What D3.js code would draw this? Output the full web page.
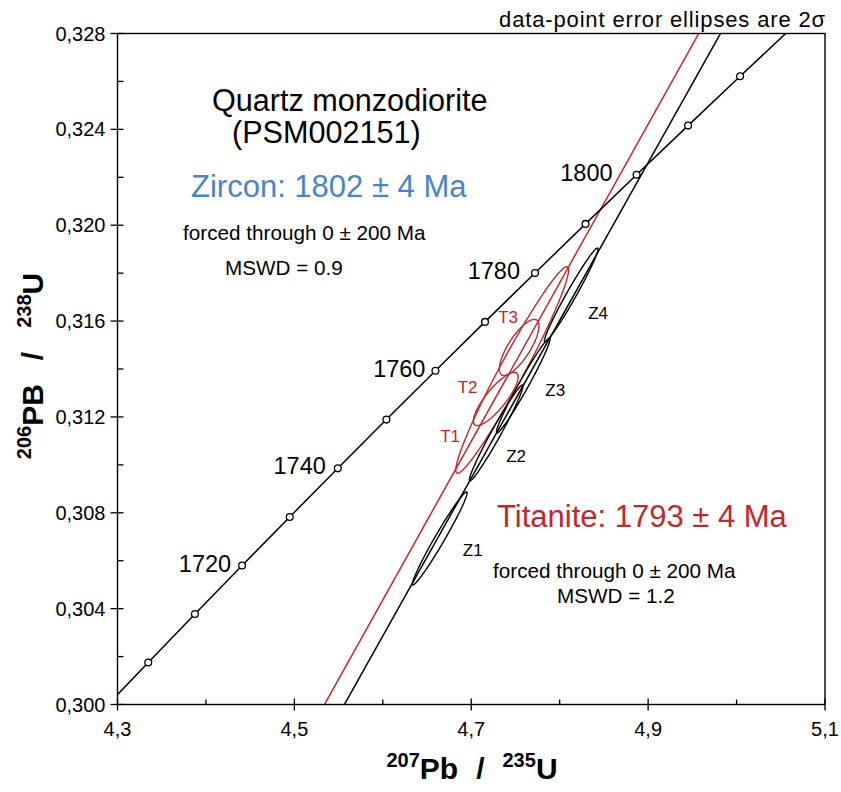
<!DOCTYPE html>
<html><head><meta charset="utf-8">
<script src="https://cdn.jsdelivr.net/npm/d3@7"></script>
<style>body{margin:0;background:#fff}svg{display:block}text{font-family:"Liberation Sans",Arial,Helvetica,sans-serif}</style>
</head><body><div id="chart"></div>
<script>
// ---------- data ----------
const concordiaAges = [1690,1700,1710,1720,1730,1740,1750,1760,1770,1780,1790,1800,1810,1820,1830];
const concordiaX = [4.28249,4.33477,4.38757,4.44089,4.49474,4.54912,4.60404,4.65951,4.71552,4.77209,4.82922,4.88691,4.94517,5.00401,5.06344];
const concordiaY = [0.299736,0.301753,0.303774,0.305798,0.307825,0.309855,0.311889,0.313926,0.315966,0.318009,0.320055,0.322104,0.324157,0.326213,0.328272];
const markerAges = [1700,1710,1720,1730,1740,1750,1760,1770,1780,1790,1800,1810,1820];
const labelledAges = [1720,1740,1760,1780,1800];

const zirconNames = ["Z1","Z2","Z3","Z4"];
const zirconX   = [4.6644,4.7282,4.7588,4.8130];
const zirconY   = [0.30693,0.31133,0.31331,0.31709];
const zirconSX  = [0.0309,0.0303,0.0303,0.0303];
const zirconSY  = [0.00194,0.00200,0.00198,0.00196];
const zirconRho = [0.979,0.979,0.979,0.979];

const titaniteNames = ["T1","T2","T3"];
const titaniteX   = [4.7463,4.7277,4.7542];
const titaniteY   = [0.31396,0.31275,0.31490];
const titaniteSX  = [0.0638,0.0253,0.0224];
const titaniteSY  = [0.00431,0.00111,0.00117];
const titaniteRho = [0.969,0.830,0.766];

// discordia lines (forced through origin), two points each in data space
const zirconLineX = [0, 5.1], zirconLineY = [0, 0.33578];
const titaniteLineX = [0, 5.1], titaniteLineY = [0, 0.337447];

const xTicks = [4.3,4.5,4.7,4.9,5.1];
const xTickLabels = ["4,3","4,5","4,7","4,9","5,1"];
const xMinor = [4.4,4.6,4.8,5.0];
const yTicks = [0.300,0.304,0.308,0.312,0.316,0.320,0.324,0.328];
const yTickLabels = ["0,300","0,304","0,308","0,312","0,316","0,320","0,324","0,328"];
const yMinor = [0.302,0.306,0.310,0.314,0.318,0.322,0.326];

// ---------- layout ----------
const W = 841, H = 792;
const L = 117.5, R = 825, T = 33.5, B = 704.5;
const RED = "#c1272d", BLUE = "#4a84c8";

const svg = d3.select("#chart").append("svg").attr("width", W).attr("height", H);
const x = d3.scaleLinear().domain([4.3, 5.1]).range([L, R]);
const y = d3.scaleLinear().domain([0.300, 0.328]).range([B, T]);

svg.append("defs").append("clipPath").attr("id","plot")
  .append("rect").attr("x", L).attr("y", T).attr("width", R-L).attr("height", B-T);

const g = svg.append("g").attr("clip-path","url(#plot)");

// discordia lines
const line2 = d3.line().x(d => x(d[0])).y(d => y(d[1]));
g.append("path").attr("d", line2(titaniteLineX.map((v,i)=>[v,titaniteLineY[i]])))
  .attr("fill","none").attr("stroke",RED).attr("stroke-width",1.5);
g.append("path").attr("d", line2(zirconLineX.map((v,i)=>[v,zirconLineY[i]])))
  .attr("fill","none").attr("stroke","#000").attr("stroke-width",1.5);

// concordia
const conc = concordiaAges.map((a,i)=>[concordiaX[i],concordiaY[i]]);
g.append("path").attr("d", d3.line().curve(d3.curveNatural).x(d=>x(d[0])).y(d=>y(d[1]))(conc))
  .attr("fill","none").attr("stroke","#000").attr("stroke-width",1.5);

// error ellipses
function ellipsePts(cx, cy, sx, sy, rho){
  const n = 120, pts = [], k = Math.sqrt(1 - rho*rho);
  for (let i = 0; i < n; i++){
    const t = 2*Math.PI*i/n;
    pts.push([cx + sx*Math.cos(t), cy + sy*(rho*Math.cos(t) + k*Math.sin(t))]);
  }
  return pts;
}
const ell = d3.line().curve(d3.curveLinearClosed).x(d=>x(d[0])).y(d=>y(d[1]));
titaniteNames.forEach((n,i)=>{
  g.append("path").attr("d", ell(ellipsePts(titaniteX[i],titaniteY[i],titaniteSX[i],titaniteSY[i],titaniteRho[i])))
    .attr("fill","none").attr("stroke",RED).attr("stroke-width",1.4);
});
zirconNames.forEach((n,i)=>{
  g.append("path").attr("d", ell(ellipsePts(zirconX[i],zirconY[i],zirconSX[i],zirconSY[i],zirconRho[i])))
    .attr("fill","none").attr("stroke","#000").attr("stroke-width",1.4);
});

// concordia markers + age labels
markerAges.forEach(a=>{
  const i = concordiaAges.indexOf(a);
  g.append("circle").attr("cx", x(concordiaX[i])).attr("cy", y(concordiaY[i])).attr("r",3.4)
    .attr("fill","#fff").attr("stroke","#000").attr("stroke-width",1.3);
});
const ageGap = [11, 12, 10, 15, 24];
labelledAges.forEach((a,k)=>{
  const i = concordiaAges.indexOf(a);
  svg.append("text").attr("x", x(concordiaX[i]) - ageGap[k]).attr("y", y(concordiaY[i]) + 6)
    .attr("text-anchor","end").attr("font-size",23.5).text(String(a));
});

// ellipse labels (offsets in px from ellipse centres)
const zOff = [[23,18],[10,29],[22,10],[17,24]];
zirconNames.forEach((n,i)=>{
  svg.append("text").attr("x", x(zirconX[i])+zOff[i][0]).attr("y", y(zirconY[i])+zOff[i][1])
    .attr("font-size",17).text(n);
});
const tOff = [[-72,72],[-38,-6],[-21,-24]];
titaniteNames.forEach((n,i)=>{
  svg.append("text").attr("x", x(titaniteX[i])+tOff[i][0]).attr("y", y(titaniteY[i])+tOff[i][1])
    .attr("font-size",17).attr("fill",RED).text(n);
});

// frame
svg.append("rect").attr("x",L).attr("y",T).attr("width",R-L).attr("height",B-T)
  .attr("fill","none").attr("stroke","#000").attr("stroke-width",1.4);

// ticks
xTicks.forEach((v,i)=>{
  svg.append("line").attr("x1",x(v)).attr("x2",x(v)).attr("y1",B-6).attr("y2",B+6).attr("stroke","#000").attr("stroke-width",1.3);
  svg.append("text").attr("x",x(v)).attr("y",B+31).attr("text-anchor","middle").attr("font-size",20).text(xTickLabels[i]);
});
xMinor.forEach(v=>{
  svg.append("line").attr("x1",x(v)).attr("x2",x(v)).attr("y1",B-5).attr("y2",B).attr("stroke","#000").attr("stroke-width",1.3);
});
yTicks.forEach((v,i)=>{
  svg.append("line").attr("x1",L-7).attr("x2",L+6).attr("y1",y(v)).attr("y2",y(v)).attr("stroke","#000").attr("stroke-width",1.3);
  svg.append("text").attr("x",L-12).attr("y",y(v)+7).attr("text-anchor","end").attr("font-size",20).text(yTickLabels[i]);
});
yMinor.forEach(v=>{
  svg.append("line").attr("x1",L).attr("x2",L+6).attr("y1",y(v)).attr("y2",y(v)).attr("stroke","#000").attr("stroke-width",1.3);
});

// axis titles
function isoTitle(sel, supA, mainA, supB, mainB, gap){
  sel.append("tspan").attr("font-size",20).attr("dy",-12).text(supA);
  sel.append("tspan").attr("dy",12).text(mainA);
  sel.append("tspan").attr("dx",gap).text("/");
  sel.append("tspan").attr("font-size",20).attr("dx",gap).attr("dy",-12).text(supB);
  sel.append("tspan").attr("dy",12).text(mainB);
}
const xt = svg.append("text").attr("x",472).attr("y",779).attr("text-anchor","middle")
  .attr("font-size",30).attr("font-weight","bold");
isoTitle(xt, "207", "Pb", "235", "U", 18);
const yt = svg.append("text").attr("transform","translate(43,366) rotate(-90)").attr("text-anchor","middle")
  .attr("font-size",30).attr("font-weight","bold");
isoTitle(yt, "206", "PB", "238", "U", 24);

// annotations
svg.append("text").attr("x",826).attr("y",27).attr("text-anchor","end").attr("font-size",22)
  .attr("letter-spacing",0.85).text("data-point error ellipses are 2σ");
svg.append("text").attr("x",212).attr("y",111).attr("font-size",30.6).text("Quartz monzodiorite");
svg.append("text").attr("x",232).attr("y",143).attr("font-size",30.6).text("(PSM002151)");
svg.append("text").attr("x",191).attr("y",197).attr("font-size",31).attr("fill",BLUE).text("Zircon: 1802 ± 4 Ma");
svg.append("text").attr("x",183).attr("y",240).attr("font-size",20.7).text("forced through 0 ± 200 Ma");
svg.append("text").attr("x",225).attr("y",275).attr("font-size",20.7).text("MSWD = 0.9");
svg.append("text").attr("x",497).attr("y",527).attr("font-size",31).attr("fill",RED).text("Titanite: 1793 ± 4 Ma");
svg.append("text").attr("x",493).attr("y",578).attr("font-size",20.7).text("forced through 0 ± 200 Ma");
svg.append("text").attr("x",557).attr("y",603).attr("font-size",20.7).text("MSWD = 1.2");
</script></body></html>
